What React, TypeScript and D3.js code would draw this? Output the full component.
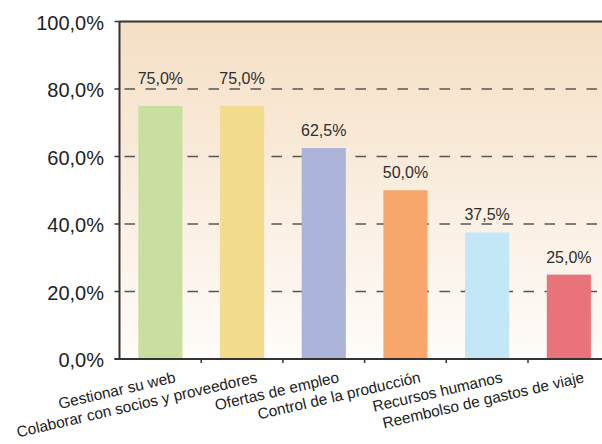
import React from "react";
import * as d3 from "d3";

const categories = [
  "Gestionar su web",
  "Colaborar con socios y proveedores",
  "Ofertas de empleo",
  "Control de la producción",
  "Recursos humanos",
  "Reembolso de gastos de viaje",
];
const values = [75, 75, 62.5, 50, 37.5, 25];
const barColors = ["#c9df9f", "#f3dc8e", "#abb3d9", "#f8a66b", "#c4e7f8", "#e8737a"];
const yTicks = [0, 20, 40, 60, 80, 100];
const gridTicks = [20, 40, 60, 80];

const W = 602;
const H = 444;
const left = 119.5;
const top = 21.5;
const bottom = 359;
const bandW = 81.7;
const right = left + bandW * categories.length;

const fmt = (v: number) => v.toFixed(1).replace(".", ",") + "%";

export default function App() {
  const x = d3.scaleBand<string>().domain(categories).range([left, right]).paddingInner(0.46).paddingOuter(0.23);
  const xb = d3.scaleBand<string>().domain(categories).range([left, right]);
  const y = d3.scaleLinear().domain([0, 100]).range([bottom, top]);

  const labelY = (v: number) => {
    let base = y(v) - 12;
    for (const g of gridTicks) {
      const gy = y(g);
      if (gy > base - 12 && gy < base) base = gy - 5;
    }
    return base;
  };

  return (
    <svg width={W} height={H} style={{ position: "absolute", left: 0, top: 0, fontFamily: "'Liberation Sans', Arial, sans-serif" }}>
      <defs>
        <linearGradient id="bg" x1="0" y1="0" x2="0" y2="1">
          <stop offset="0" stopColor="#f5dfc4" />
          <stop offset="1" stopColor="#fefcfa" />
        </linearGradient>
      </defs>
      <rect x={left} y={top} width={right - left} height={bottom - top} fill="url(#bg)" />
      {gridTicks.map((t) => (
        <line key={t} x1={left} x2={right} y1={y(t)} y2={y(t)} stroke="#5a5550" strokeWidth={1.6} strokeDasharray="10.5,10.5" strokeDashoffset={-5} />
      ))}
      {categories.map((c, i) => (
        <rect key={c} x={x(c)} y={y(values[i])} width={x.bandwidth()} height={bottom - y(values[i])} fill={barColors[i]} />
      ))}
      {categories.map((c, i) => (
        <text key={c} x={(x(c) as number) + x.bandwidth() / 2} y={labelY(values[i])} textAnchor="middle" fontSize={16} fill="#2e2e2e">
          {fmt(values[i])}
        </text>
      ))}
      <line x1={left} x2={right} y1={top} y2={top} stroke="#333" strokeWidth={2} />
      <line x1={left} x2={left} y1={top} y2={bottom} stroke="#333" strokeWidth={2} />
      <line x1={left - 5} x2={right} y1={bottom} y2={bottom} stroke="#333" strokeWidth={2} />
      {yTicks.map((t) => (
        <g key={t}>
          <line x1={left - 5} x2={left} y1={y(t)} y2={y(t)} stroke="#333" strokeWidth={1.5} />
          <text x={104} y={y(t) + 8} textAnchor="end" fontSize={20} fill="#222">
            {fmt(t)}
          </text>
        </g>
      ))}
      {categories.map((c) => (
        <line key={"t" + c} x1={(xb(c) as number) + bandW} x2={(xb(c) as number) + bandW} y1={bottom} y2={bottom + 4} stroke="#333" strokeWidth={1.5} />
      ))}
      {categories.map((c) => (
        <g key={"l" + c} transform={`translate(${(xb(c) as number) + bandW / 2 + 16},382)`}>
          <text transform="rotate(-13)" textAnchor="end" fontSize={15.4} fill="#222">
            {c}
          </text>
        </g>
      ))}
    </svg>
  );
}
